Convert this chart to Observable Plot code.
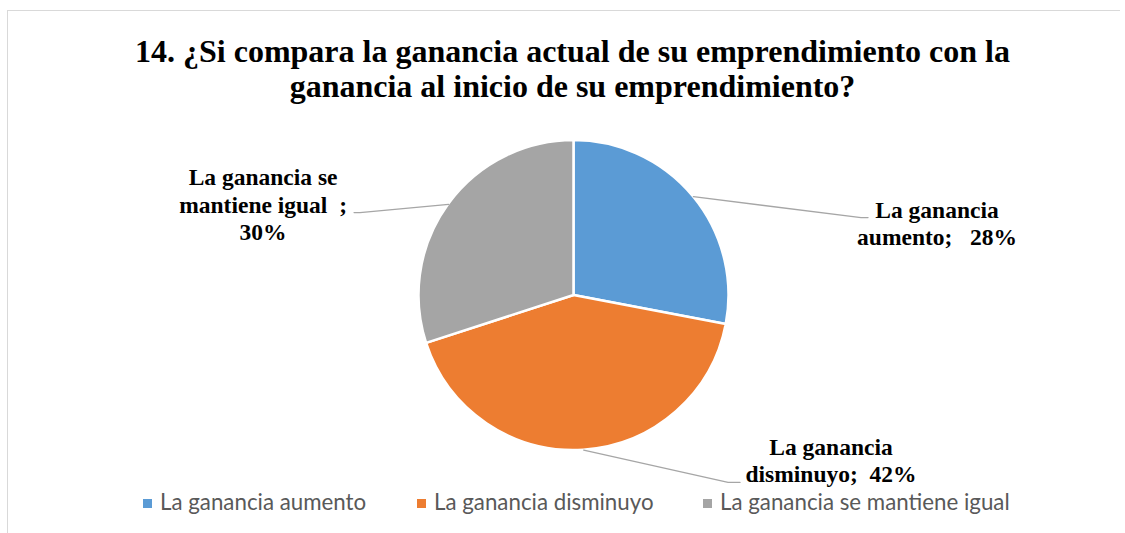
<!DOCTYPE html>
<html>
<head>
<meta charset="utf-8">
<script src="https://cdn.jsdelivr.net/npm/d3@7"></script>
<script src="https://cdn.jsdelivr.net/npm/@observablehq/plot@0.6"></script>
<style>
html, body { margin: 0; padding: 0; background: #fff; }
#wrap { position: relative; width: 1125px; height: 533px; overflow: hidden; background: #fff; }
#wrap svg text { white-space: pre; }
.bt { position: absolute; left: 7px; top: 10px; width: 1113px; height: 0; border-top: 1.5px solid #d9d9d9; }
.bl { position: absolute; left: 7px; top: 10px; width: 0; height: 530px; border-left: 1.5px solid #d9d9d9; }
#title { position: absolute; left: 0; top: 34px; width: 1145px; text-align: center;
  font: bold 32px/35px "Liberation Serif", "Times New Roman", serif; color: #000; }
#chart { position: absolute; left: 0; top: 0; }
#legend { position: absolute; left: 0; top: 0; pointer-events: none; }
</style>
</head>
<body>
<div id="wrap">
  <div class="bt"></div>
  <div class="bl"></div>
  <div id="chart"></div>
  <div id="title"></div>
  <div id="legend"></div>
</div>
<script>
// ---- data ----
const titleLines = [
  "14. ¿Si compara la ganancia actual de su emprendimiento con la",
  "ganancia al inicio de su emprendimiento?"
];
const categories = ["La ganancia aumento", "La ganancia disminuyo", "La ganancia se mantiene igual"];
const percents = [28, 42, 30];
const colors = ["#5B9BD5", "#ED7D31", "#A5A5A5"];
const labelPrefixes = ["La ganancia\naumento;   ", "La ganancia\ndisminuyo;  ", "La ganancia se\nmantiene igual  ;\n"];

// ---- layout (unit = pie radius, origin = pie centre) ----
const labelAnchor = [[2.342, 0.323], [1.658, -1.206], [-2.006, 0.355]];
const leaderElbow = [[1.852, 0.503], [0.994, -1.206], [-1.381, 0.535]];
const leaderEnd   = [[1.897, 0.503], [1.071, -1.206], [-1.419, 0.535]];
const legendX = [143, 417, 703];

// ---- build ----
document.getElementById("title").innerHTML = titleLines.join("<br>");

const arcs = d3.pie().sort(null).startAngle(0).endAngle(2 * Math.PI)(percents);

const labelRows = categories.map((c, i) => ({
  cat: c,
  x: labelAnchor[i][0],
  y: labelAnchor[i][1],
  text: labelPrefixes[i] + percents[i] + "%"
}));

const leaderRows = [];
arcs.forEach((a, i) => {
  const mid = (a.startAngle + a.endAngle) / 2;
  leaderRows.push({k: i, x: Math.sin(mid), y: Math.cos(mid)});
  leaderRows.push({k: i, x: leaderElbow[i][0], y: leaderElbow[i][1]});
  leaderRows.push({k: i, x: leaderEnd[i][0], y: leaderEnd[i][1]});
});

function pieSlices(index, scales) {
  const cx = scales.x(0), cy = scales.y(0);
  const r = Math.abs(scales.x(1) - scales.x(0));
  const g = d3.create("svg:g").attr("transform", `translate(${cx},${cy})`);
  const arc = d3.arc().innerRadius(0).outerRadius(r);
  g.selectAll("path").data(arcs).join("path")
    .attr("d", arc)
    .attr("fill", (d, i) => colors[i])
    .attr("stroke", "#fff")
    .attr("stroke-width", 2.5)
    .attr("stroke-linejoin", "round");
  return g.node();
}

const plot = Plot.plot({
  width: 1125,
  height: 533,
  margin: 0,
  style: {background: "transparent"},
  x: {domain: [-1, 1], range: [418.5, 728.5], axis: null},
  y: {domain: [-1, 1], range: [450, 140], axis: null},
  marks: [
    pieSlices,
    Plot.line(leaderRows, {x: "x", y: "y", z: "k", stroke: "#a6a6a6", strokeWidth: 1.3}),
    Plot.text(labelRows, {
      x: "x", y: "y", text: "text",
      lineAnchor: "bottom", textAnchor: "middle",
      fontSize: 23.5, fontWeight: "bold", fontFamily: "Liberation Serif",
      lineHeight: 1.17, fill: "#000"
    })
  ]
});
document.getElementById("chart").appendChild(plot);

// legend
const lg = d3.select("#legend").append("svg").attr("width", 1125).attr("height", 533);
categories.forEach((c, i) => {
  lg.append("rect").attr("x", legendX[i]).attr("y", 499).attr("width", 9).attr("height", 9).attr("fill", colors[i]);
  lg.append("text").attr("x", legendX[i] + 17).attr("y", 510)
    .attr("font-family", "Lato, sans-serif").attr("font-size", 22.3).attr("fill", "#595959")
    .text(c);
});
</script>
</body>
</html>
